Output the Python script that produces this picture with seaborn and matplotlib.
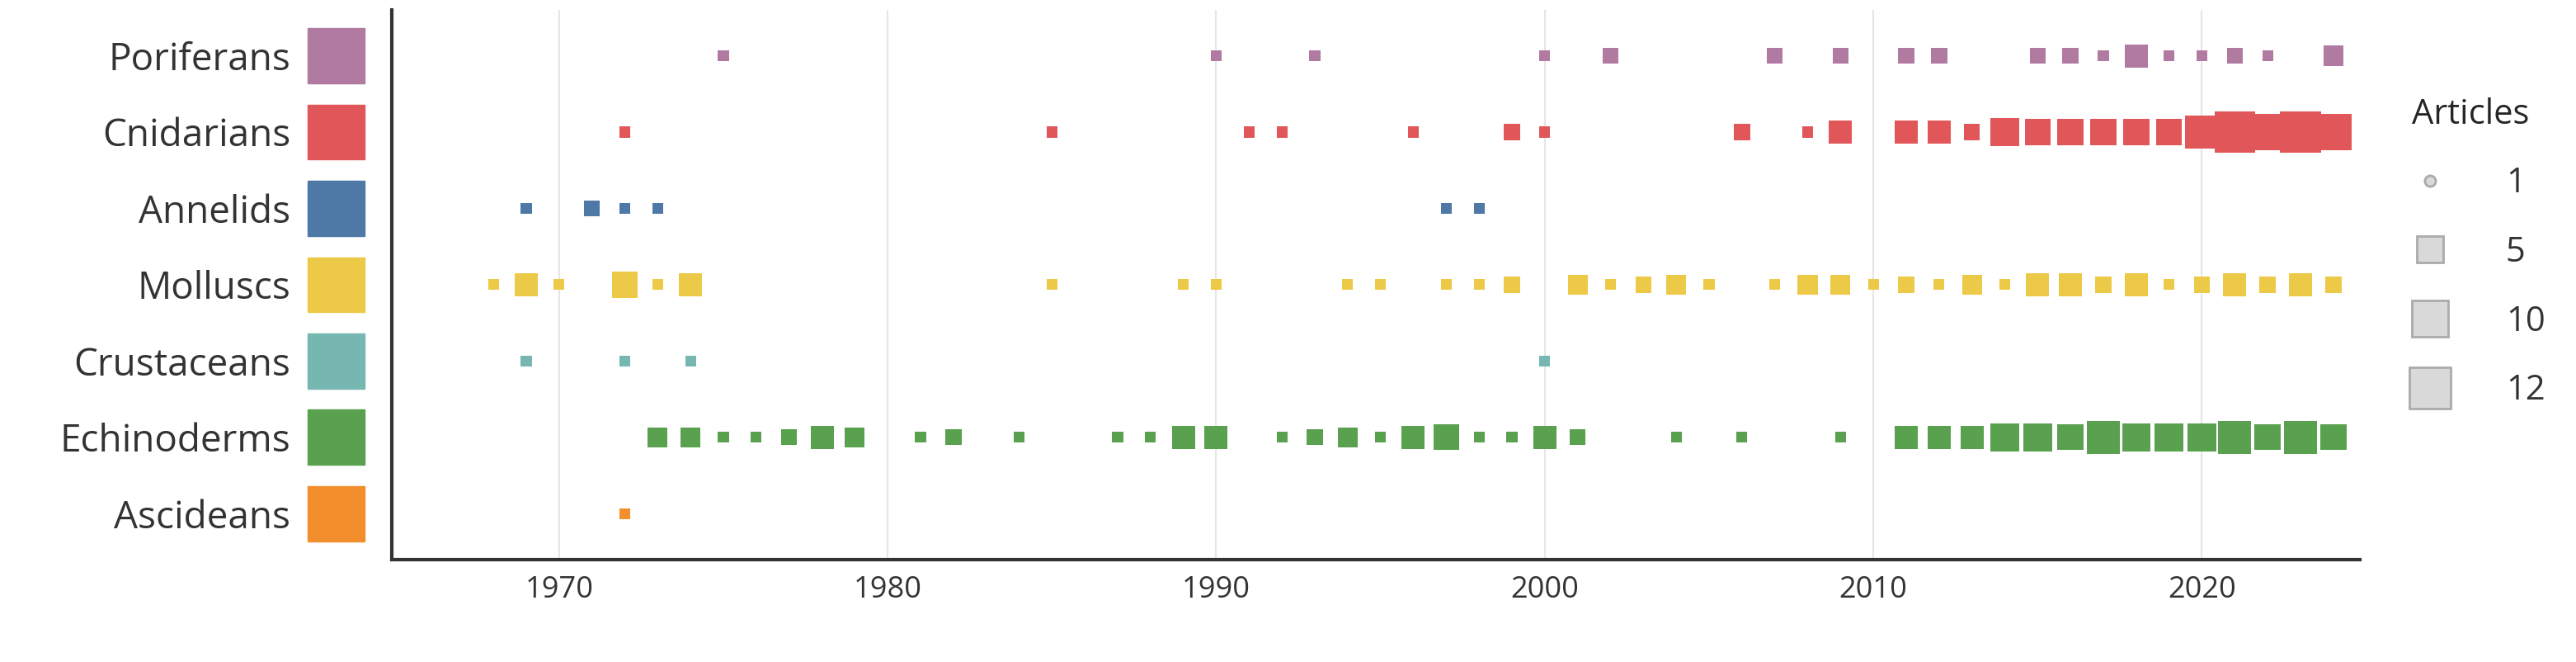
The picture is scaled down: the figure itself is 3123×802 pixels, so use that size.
import matplotlib
matplotlib.use("Agg")
import matplotlib.pyplot as plt
import seaborn as sns
import pandas as pd
from matplotlib.lines import Line2D
from matplotlib.patches import Rectangle
import matplotlib.transforms as mtransforms

groups = ['Poriferans', 'Cnidarians', 'Annelids', 'Molluscs',
          'Crustaceans', 'Echinoderms', 'Ascideans']
colors = ['#b07aa1', '#e15759', '#4e79a7', '#edc948',
          '#76b7b2', '#59a14f', '#f28e2b']

poriferans_years = [1975, 1990, 1993, 2000, 2002, 2007, 2009, 2011, 2012, 2015,
                    2016, 2017, 2018, 2019, 2020, 2021, 2022, 2024]
poriferans_n = [1, 1, 1, 1, 2, 2, 2, 2, 2, 2, 2, 1, 4, 1, 1, 2, 1, 3]

cnidarians_years = [1972, 1985, 1991, 1992, 1996, 1999, 2000, 2006, 2008, 2009,
                    2011, 2012, 2013, 2014, 2015, 2016, 2017, 2018, 2019, 2020,
                    2021, 2022, 2023, 2024]
cnidarians_n = [1, 1, 1, 1, 1, 2, 1, 2, 1, 4, 4, 4, 2, 6, 5, 5, 5, 5, 5, 8,
                12, 10, 12, 10]

annelids_years = [1969, 1971, 1972, 1973, 1997, 1998]
annelids_n = [1, 2, 1, 1, 1, 1]

molluscs_years = [1968, 1969, 1970, 1972, 1973, 1974, 1985, 1989, 1990, 1994,
                  1995, 1997, 1998, 1999, 2001, 2002, 2003, 2004, 2005, 2007,
                  2008, 2009, 2010, 2011, 2012, 2013, 2014, 2015, 2016, 2017,
                  2018, 2019, 2020, 2021, 2022, 2023, 2024]
molluscs_n = [1, 4, 1, 5, 1, 4, 1, 1, 1, 1, 1, 1, 1, 2, 3, 1, 2, 3, 1, 1,
              3, 3, 1, 2, 1, 3, 1, 4, 4, 2, 4, 1, 2, 4, 2, 4, 2]

crustaceans_years = [1969, 1972, 1974, 2000]
crustaceans_n = [1, 1, 1, 1]

echinoderms_years = [1973, 1974, 1975, 1976, 1977, 1978, 1979, 1981, 1982, 1984,
                     1987, 1988, 1989, 1990, 1992, 1993, 1994, 1995, 1996, 1997,
                     1998, 1999, 2000, 2001, 2004, 2006, 2009, 2011, 2012, 2013,
                     2014, 2015, 2016, 2017, 2018, 2019, 2020, 2021, 2022, 2023,
                     2024]
echinoderms_n = [3, 3, 1, 1, 2, 4, 3, 1, 2, 1, 1, 1, 4, 4, 1, 2, 3, 1, 4, 5,
                 1, 1, 4, 2, 1, 1, 1, 4, 4, 4, 6, 6, 5, 8, 6, 6, 6, 8, 5, 8, 5]

ascideans_years = [1972]
ascideans_n = [1]

legend_sizes = [1, 5, 10, 12]

series = [(poriferans_years, poriferans_n), (cnidarians_years, cnidarians_n),
          (annelids_years, annelids_n), (molluscs_years, molluscs_n),
          (crustaceans_years, crustaceans_n), (echinoderms_years, echinoderms_n),
          (ascideans_years, ascideans_n)]

frames = []
for g, (yrs, n) in zip(groups, series):
    frames.append(pd.DataFrame({'year': yrs, 'articles': n, 'group': g}))
df = pd.concat(frames, ignore_index=True)
df['pos'] = df['group'].map({g: i for i, g in enumerate(groups)})

sns.set_style('white')
plt.rcParams['font.family'] = ['Open Sans', 'DejaVu Sans']

smin, smax = 90, 1250

fig = plt.figure(figsize=(31.23, 8.02), dpi=100)
ax = fig.add_axes([0.152, 0.155, 0.764, 0.83])

sns.scatterplot(data=df, x='year', y='pos', hue='group', palette=colors,
                hue_order=groups, size='articles', sizes=(smin, smax),
                size_norm=(1, 12), marker='s', linewidth=0, legend=False, ax=ax)

ax.set_xlim(1964.9, 2024.8)
ax.set_ylim(len(groups) - 0.4, -0.6)
ax.set_xticks([1970, 1980, 1990, 2000, 2010, 2020])
ax.xaxis.grid(True, color='#e6e6e6', linewidth=1.5)
ax.set_axisbelow(True)
ax.tick_params(axis='x', labelsize=26, colors='#333333', length=0, pad=14)
ax.set_yticks(range(len(groups)))
ax.set_yticklabels(groups, fontsize=33, color='#333333')
ax.tick_params(axis='y', length=0, pad=88)
ax.set_xlabel('')
ax.set_ylabel('')
for s in ['top', 'right']:
    ax.spines[s].set_visible(False)
for s in ['left', 'bottom']:
    ax.spines[s].set_color('#333333')
    ax.spines[s].set_linewidth(3)

# coloured swatches next to the labels
trans = mtransforms.blended_transform_factory(ax.transAxes, ax.transData)
for i, c in enumerate(colors):
    ax.add_patch(Rectangle((-0.0425, i - 0.36), 0.029, 0.72, transform=trans,
                           color=c, clip_on=False))

handles = [Line2D([], [], marker='s' if v > 1 else 'o', linestyle='',
                  markersize=(smin + (smax - smin) * (v - 1) / 11) ** 0.5,
                  markerfacecolor='#d9d9d9', markeredgecolor='#aaaaaa',
                  markeredgewidth=2) for v in legend_sizes]
leg = fig.legend(handles, [str(v) for v in legend_sizes], title='Articles',
                 loc='upper left', bbox_to_anchor=(0.918, 0.9), frameon=False,
                 fontsize=30, title_fontsize=30, labelspacing=1.0,
                 handletextpad=1.2, labelcolor='#333333')

fig.savefig('out.png', dpi=100)
